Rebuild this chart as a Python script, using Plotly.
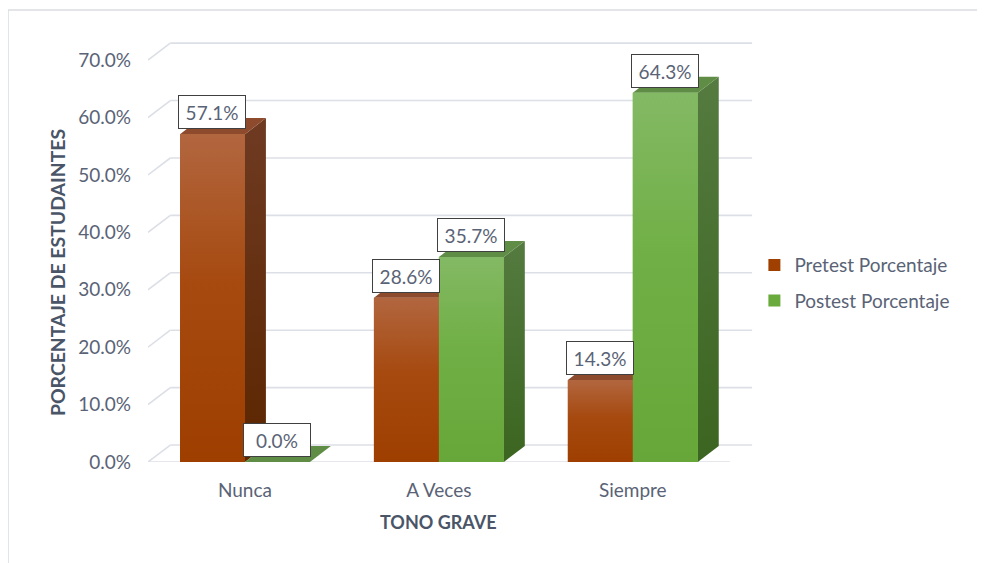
import plotly.graph_objects as go

categories = ["Nunca", "A Veces", "Siempre"]
pretest = [57.1, 28.6, 14.3]
postest = [0.0, 35.7, 64.3]
y_ticks = [0, 10, 20, 30, 40, 50, 60, 70]

FONT = "Lato"
TXT = "#5a6376"
TITLE_TXT = "#4a5568"

BAR_W = 0.335   # bar width in category units
DX, DY = 0.108, 2.8     # bar depth (x units, y units)
GDX, GDY = 0.115, 2.95  # back wall depth

pre_colors = dict(
    front=[[0, "#9e3f00"], [0.55, "#a64a10"], [1, "#b2663f"]],
    side=[[0, "#5c2600"], [1, "#6e3a22"]],
    top="#8e4a2d",
    legend="#a04000",
)
post_colors = dict(
    front=[[0, "#67a739"], [0.55, "#70af45"], [1, "#83b964"]],
    side=[[0, "#3b6520"], [1, "#557b40"]],
    top="#5f8d46",
    legend="#6aaa3c",
)


def add_bar3d(fig, xl, val, col):
    xr = xl + BAR_W
    # side face
    if val > 0:
        fig.add_trace(go.Scatter(
            x=[xr, xr + DX, xr + DX, xr, xr], y=[0, DY, val + DY, val, 0],
            fill="toself", mode="none", hoverinfo="skip", showlegend=False,
            fillgradient=dict(type="vertical", colorscale=col["side"])))
    # top face
    fig.add_trace(go.Scatter(
        x=[xl, xr, xr + DX, xl + DX, xl], y=[val, val, val + DY, val + DY, val],
        fill="toself", mode="none", fillcolor=col["top"], hoverinfo="skip", showlegend=False))
    # front face
    if val > 0:
        fig.add_trace(go.Scatter(
            x=[xl, xr, xr, xl, xl], y=[0, 0, val, val, 0],
            fill="toself", mode="none", hoverinfo="skip", showlegend=False,
            fillgradient=dict(type="vertical", colorscale=col["front"])))


fig = go.Figure()

# flat bars give the legend keys; the 3d faces are drawn on top of them
xs = list(range(len(categories)))
fig.add_trace(go.Bar(x=xs, y=pretest, width=BAR_W, offset=-BAR_W, name="Pretest Porcentaje",
                     marker=dict(color=pre_colors["legend"], line=dict(width=0)), legendgroup="a"))
fig.add_trace(go.Bar(x=xs, y=postest, width=BAR_W, offset=0, name="Postest Porcentaje",
                     marker=dict(color=post_colors["legend"], line=dict(width=0)), legendgroup="b"))

for i in xs:
    add_bar3d(fig, i - BAR_W, pretest[i], pre_colors)
    add_bar3d(fig, i, postest[i], post_colors)

# back wall gridlines
for v in y_ticks:
    fig.add_shape(type="line", x0=-0.5 + GDX, x1=len(categories) - 0.5 + GDX, y0=v + GDY, y1=v + GDY,
                  line=dict(color="#dcdfe6", width=1.6), layer="below")
    fig.add_shape(type="line", x0=-0.5, x1=-0.5 + GDX, y0=v, y1=v + GDY,
                  line=dict(color="#dcdfe6", width=1.6), layer="below")
fig.add_shape(type="line", x0=-0.5, x1=len(categories) - 0.5, y0=0, y1=0,
              line=dict(color="#dcdfe6", width=1.6), layer="below")

# data labels
for i in xs:
    for xc, val in [(i - BAR_W / 2, pretest[i]), (i + BAR_W / 2, postest[i])]:
        fig.add_annotation(x=xc, y=val, text=f"{val:.1f}%", showarrow=False, yshift=22,
                           font=dict(family=FONT, size=19, color=TXT),
                           bgcolor="white", bordercolor="#404040", borderwidth=1,
                           borderpad=2, width=62, height=28)

# axis titles
fig.add_annotation(text="<b>PORCENTAJE DE ESTUDAINTES</b>", xref="paper", yref="paper",
                   x=-0.15, y=0.45, textangle=-90, showarrow=False,
                   xanchor="center", yanchor="middle",
                   font=dict(family=FONT, size=19.4, color=TITLE_TXT))
fig.add_annotation(text="<b>TONO GRAVE</b>", xref="x", yref="paper", x=1, y=-0.142,
                   xanchor="center", yanchor="middle",
                   showarrow=False, font=dict(family=FONT, size=18, color=TITLE_TXT))

# chart area border
fig.add_shape(type="line", xref="paper", yref="paper", x0=-0.2306, x1=1.4, y0=1.071, y1=1.071,
              line=dict(color="#dadde2", width=1.5))
fig.add_shape(type="line", xref="paper", yref="paper", x0=-0.2306, x1=-0.2306, y0=1.071, y1=-0.3,
              line=dict(color="#dadde2", width=1.5))

fig.update_layout(
    width=977, height=555,
    margin=dict(l=140, r=230, t=32, b=101),
    paper_bgcolor="white", plot_bgcolor="white",
    barmode="overlay",
    showlegend=True,
    legend=dict(x=0.999, y=0.424, xanchor="left", yanchor="middle",
                font=dict(family=FONT, size=19, color=TXT),
                traceorder="grouped", tracegroupgap=8, itemwidth=30),
    xaxis=dict(range=[-0.5, len(categories) - 0.5 + 0.13], tickvals=xs, ticktext=categories,
               showgrid=False, zeroline=False, showline=False, ticks="",
               ticklabelstandoff=15, tickfont=dict(family=FONT, size=19, color=TXT)),
    yaxis=dict(range=[0, 73.5], tickmode="array", tickvals=y_ticks,
               ticktext=[f"{v:.1f}%" for v in y_ticks],
               showgrid=False, zeroline=False, showline=False, ticks="",
               ticklabelstandoff=16, tickfont=dict(family=FONT, size=19, color=TXT)),
)

fig.write_html("out.html")
